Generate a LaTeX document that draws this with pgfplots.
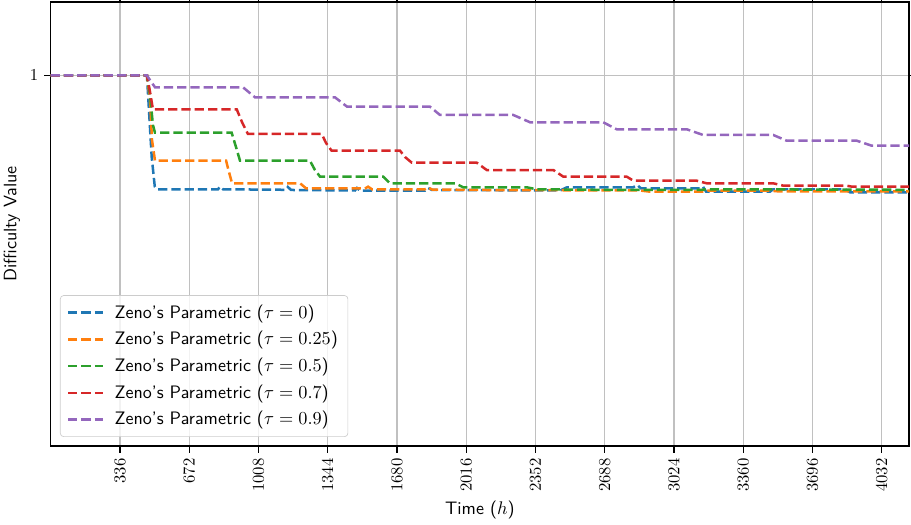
\documentclass[border=0pt]{standalone}
\usepackage{pgfplots}
\pgfplotsset{compat=1.18}
\definecolor{tabblue}{HTML}{1F77B4}
\definecolor{taborange}{HTML}{FF7F0E}
\definecolor{tabgreen}{HTML}{2CA02C}
\definecolor{tabred}{HTML}{D62728}
\definecolor{tabpurple}{HTML}{9467BD}
\definecolor{gridgray}{HTML}{C0C0C0}
\begin{document}
\begin{tikzpicture}
\useasboundingbox (-30.4pt,-47.3pt) rectangle (515.8pt,267.4pt);
\begin{axis}[
  at={(0,0)}, anchor=south west,
  scale only axis, width=514.6pt, height=266.2pt,
  xmin=0, xmax=4164.5, ymin=0, ymax=1.1984,
  xtick={336,672,...,4032}, ytick={1},
  /pgf/number format/1000 sep={},
  xticklabel style={rotate=90, anchor=east},
  tick align=outside, major tick length=4pt,
  tick style={black, line width=0.8pt},
  axis line style={line width=0.8pt},
  grid=major, major grid style={gridgray, line width=0.7pt},
  xlabel={\fontsize{10.8}{13}\sffamily Time ($h$)}, ylabel={\fontsize{10.8}{13}\sffamily Difficulty Value},
  xlabel style={at={(axis description cs:0.5,-0.144)}, anchor=center},
  ylabel style={at={(axis description cs:-0.0451,0.5)}, anchor=center},
  legend cell align=left,
  legend style={at={(axis description cs:0.0108,0.0203)}, anchor=south west,
    draw=black!20, rounded corners=2pt, fill=white, fill opacity=0.8, text opacity=1,
    font=\fontsize{10.8}{13}\sffamily, row sep=2.4pt, inner xsep=4pt, inner ysep=3.5pt,
    /tikz/every odd column/.append style={column sep=4pt}},
  legend image code/.code={\draw[#1] (0pt,0pt) -- (21pt,0pt);},
  every axis plot/.append style={line width=1.5pt, dash pattern=on 5.55pt off 2.4pt},
]
\addplot[tabblue] coordinates {
(0,1) (467,1) (490,0.78) (505,0.70) (516,0.6929) (812,0.6929) (821,0.6999) (836,0.6929)
(1142,0.6915) (1151,0.6991) (1166,0.6910) (1476,0.6896) (1486,0.6964) (1501,0.6891)
(1816,0.6891) (1831,0.6964) (1850,0.6910) (2471,0.6896) (2505,0.6982) (2825,0.6977)
(2845,0.7045) (2864,0.6955) (3150,0.6955) (3165,0.6999) (3180,0.6864) (3490,0.6864)
(3505,0.6929) (3854,0.6929) (3878,0.6847) (4164.5,0.6847)};
\addlegendentry{Zeno's Parametric ($\tau = 0$)}
\addplot[taborange] coordinates {
(0,1) (467,1) (482,0.9339) (491.5,0.8259) (506,0.7700) (851,0.7700) (865,0.7395)
(880,0.7090) (1210,0.7090) (1239,0.6955) (1525,0.6950) (1540,0.6999) (1559,0.6929)
(1816,0.6929) (1831,0.6977) (1850,0.6923) (2083,0.6910) (2859,0.6896) (2908,0.6864)
(3175,0.6864) (3189,0.6891) (3490,0.6891) (3538,0.6869) (4164.5,0.6874)};
\addlegendentry{Zeno's Parametric ($\tau = 0.25$)}
\addplot[tabgreen] coordinates {
(0,1) (467,1) (482,0.9474) (496,0.8664) (506,0.8456) (878,0.8456) (899,0.8070)
(918.5,0.7700) (1258,0.7700) (1282,0.7449) (1307,0.7269) (1614,0.7269) (1646,0.7090)
(1962,0.7090) (2002,0.6982) (2310,0.6982) (2358,0.6929) (2762,0.6910) (3150,0.6910)
(3180,0.6929) (4164.5,0.6915)};
\addlegendentry{Zeno's Parametric ($\tau = 0.5$)}
\addplot[tabred] coordinates {
(0,1) (467,1) (482,0.9555) (496,0.9088) (902.5,0.9088) (928,0.8745) (957,0.8421)
(1315,0.8421) (1336,0.8178) (1363,0.7970) (1695,0.7970) (1719,0.7800) (1752,0.7647)
(2067,0.7647) (2115.5,0.7449) (2439,0.7449) (2487,0.7269) (2795,0.7269) (2827,0.7161)
(3134,0.7161) (3183,0.7090) (3506,0.7090) (3555,0.7026) (3862,0.7026) (3888,0.6999)
(4164.5,0.6999)};
\addlegendentry{Zeno's Parametric ($\tau = 0.7$)}
\addplot[tabpurple] coordinates {
(0,1) (467,1) (491.5,0.9798) (506,0.9682) (933,0.9682) (991,0.9412) (1379,0.9412)
(1438,0.9158) (1840,0.9158) (1889,0.8934) (2244.5,0.8934) (2326,0.8737) (2681,0.8737)
(2746,0.8548) (3086,0.8548) (3166,0.8394) (3506,0.8394) (3571,0.8240) (3911,0.8240)
(3983.5,0.8105) (4164.5,0.8105)};
\addlegendentry{Zeno's Parametric ($\tau = 0.9$)}
\end{axis}
\end{tikzpicture}
\end{document}
